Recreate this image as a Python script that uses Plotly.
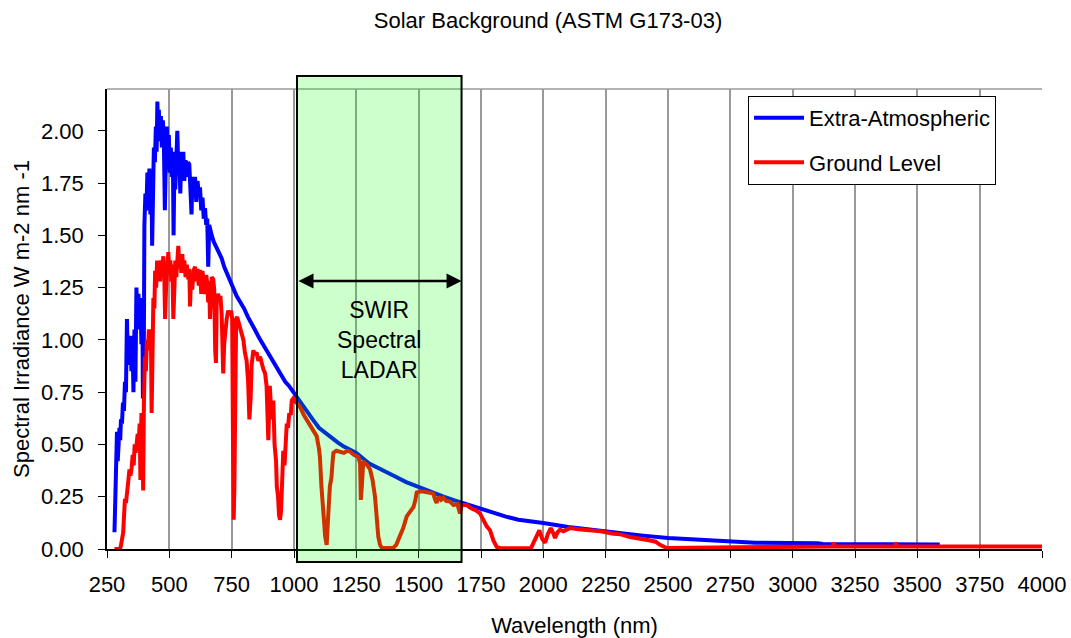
import plotly.graph_objects as go

# ---------------- data ----------------
extra_wl = [280, 283, 286, 290, 293, 297, 300, 303, 306, 310, 314, 318, 322, 326, 330, 333, 336, 340,
            344, 348, 352, 356, 360, 364, 368, 372, 376, 380, 384, 388, 392, 394, 397, 400, 404, 408,
            412, 416, 420, 424, 428, 431, 434, 438, 442, 446, 449, 452, 455, 458, 462, 466, 470, 474,
            478, 482, 486, 490, 494, 498, 502, 506, 510, 514, 517, 520, 524, 528, 532, 536, 540, 544,
            548, 552, 556, 560, 565, 570, 575, 580, 585, 589, 593, 598, 603, 608, 613, 618, 623, 628,
            633, 638, 643, 648, 652, 656, 660, 665, 670, 678, 686, 694, 702, 710, 720, 730, 740, 750,
            760, 770, 780, 790, 800, 815, 830, 845, 860, 875, 890, 905, 920, 935, 950, 965, 980, 1000,
            1025, 1050, 1075, 1100, 1125, 1150, 1175, 1200, 1250, 1300, 1350, 1400, 1450, 1500, 1550,
            1600, 1650, 1700, 1750, 1800, 1850, 1900, 1950, 2000, 2100, 2200, 2300, 2400, 2500, 2600,
            2700, 2800, 2850, 3100, 3120, 3590]
extra_irr = [0.08, 0.25, 0.45, 0.56, 0.42, 0.50, 0.58, 0.52, 0.62, 0.60, 0.70, 0.66, 0.80, 0.75, 1.10,
             0.95, 1.02, 0.88, 1.00, 0.85, 1.02, 0.75, 1.05, 0.80, 1.25, 1.05, 1.22, 1.10, 1.20, 0.98,
             1.15, 0.72, 0.80, 1.55, 1.70, 1.62, 1.80, 1.65, 1.82, 1.60, 1.78, 1.45, 1.75, 1.92, 1.85,
             2.02, 1.90, 2.14, 2.00, 2.10, 1.95, 2.07, 1.92, 2.05, 1.95, 1.62, 1.85, 2.02, 1.85, 1.98,
             1.80, 1.92, 1.78, 1.90, 1.50, 1.80, 1.72, 1.95, 2.00, 1.82, 1.90, 1.70, 1.88, 1.80, 1.90,
             1.76, 1.86, 1.78, 1.85, 1.84, 1.72, 1.60, 1.78, 1.70, 1.78, 1.66, 1.76, 1.70, 1.73, 1.62,
             1.68, 1.58, 1.63, 1.55, 1.58, 1.35, 1.55, 1.52, 1.50, 1.47, 1.45, 1.43, 1.42, 1.39, 1.35,
             1.32, 1.29, 1.26, 1.23, 1.21, 1.19, 1.17, 1.15, 1.11, 1.08, 1.045, 1.01, 0.98, 0.95, 0.92,
             0.89, 0.86, 0.83, 0.80, 0.78, 0.745, 0.70, 0.66, 0.62, 0.58, 0.555, 0.53, 0.51, 0.49,
             0.46, 0.41, 0.378, 0.35, 0.32, 0.295, 0.27, 0.25, 0.23, 0.21, 0.19, 0.17, 0.155, 0.14,
             0.13, 0.124, 0.105, 0.09, 0.076, 0.064, 0.053, 0.047, 0.042, 0.035, 0.03, 0.028, 0.024,
             0.022]

ground_wl = [280, 300, 305, 310, 315, 318, 322, 326, 330, 335, 340, 344, 349, 353, 357, 361, 365, 369,
             373, 377, 381, 384, 388, 392, 395, 398, 402, 406, 410, 414, 418, 422, 426, 429, 432, 436,
             440, 443, 447, 451, 455, 459, 463, 467, 471, 476, 480, 483, 487, 491, 496, 500, 504, 508,
             512, 516, 520, 524, 528, 532, 536, 540, 544, 548, 552, 556, 560, 565, 570, 576, 580, 583,
             587, 592, 597, 603, 608, 613, 618, 623, 628, 633, 638, 643, 648, 652, 656, 660, 663, 667,
             670, 676, 680, 684, 687, 690, 695, 700, 705, 710, 716, 720, 725, 730, 736, 742, 748, 752,
             756, 758, 761, 764, 768, 772, 778, 784, 790, 797, 803, 810, 816, 821, 826, 830, 837, 843,
             850, 857, 864, 870, 877, 884, 890, 897, 903, 910, 917, 922, 928, 931, 936, 940, 944, 948,
             952, 957, 962, 966, 971, 976, 981, 987, 991, 997, 1003, 1011, 1024, 1040, 1055, 1064, 1080,
             1091, 1100, 1104, 1110, 1118, 1125, 1131, 1136, 1140, 1144, 1150, 1155, 1158, 1170, 1185,
             1200, 1215, 1225, 1240, 1258, 1265, 1268, 1272, 1278, 1285, 1295, 1305, 1315, 1325, 1332,
             1338, 1345, 1352, 1370, 1398, 1410, 1425, 1438, 1452, 1465, 1479, 1486, 1492, 1505, 1519,
             1540, 1559, 1565, 1572, 1580, 1590, 1599, 1610, 1626, 1640, 1655, 1666, 1672, 1693, 1710,
             1730, 1746, 1760, 1773, 1786, 1800, 1813, 1830, 1950, 1967, 1976, 1984, 1995, 2007, 2018,
             2030, 2040, 2047, 2057, 2067, 2080, 2107, 2140, 2187, 2230, 2281, 2310, 2348, 2390, 2428,
             2450, 2468, 2495, 2900, 3000, 3160, 3165, 3170, 3410, 3413, 3420, 4000]
ground_irr = [0.0, 0.0, 0.01, 0.04, 0.08, 0.15, 0.24, 0.22, 0.30, 0.32, 0.38, 0.35, 0.39, 0.45, 0.40,
              0.50, 0.46, 0.52, 0.55, 0.50, 0.60, 0.33, 0.65, 0.55, 0.28, 0.70, 0.92, 0.85, 1.00, 0.95,
              1.05, 0.98, 1.05, 0.65, 1.12, 1.20, 1.15, 1.33, 1.25, 1.38, 1.30, 1.36, 1.28, 1.38, 1.32,
              1.40, 1.30, 1.10, 1.25, 1.38, 1.42, 1.32, 1.38, 1.28, 1.36, 1.10, 1.32, 1.38, 1.30, 1.43,
              1.45, 1.35, 1.40, 1.32, 1.41, 1.33, 1.38, 1.30, 1.36, 1.29, 1.34, 1.16, 1.30, 1.24, 1.33,
              1.35, 1.28, 1.34, 1.26, 1.335, 1.22, 1.33, 1.25, 1.22, 1.31, 1.27, 1.18, 1.28, 1.10, 1.28,
              1.30, 1.29, 1.24, 0.95, 0.89, 1.18, 1.22, 1.20, 1.21, 1.12, 0.84, 0.98, 1.05, 1.10, 1.14,
              1.12, 1.14, 1.10, 0.40, 0.14, 0.30, 0.95, 1.10, 1.11, 1.08, 1.06, 1.02, 1.00, 0.94, 0.90,
              0.80, 0.62, 0.72, 0.88, 0.95, 0.93, 0.94, 0.90, 0.92, 0.88, 0.86, 0.84, 0.78, 0.52, 0.78,
              0.62, 0.71, 0.50, 0.42, 0.30, 0.25, 0.16, 0.14, 0.18, 0.28, 0.47, 0.40, 0.55, 0.60, 0.58,
              0.65, 0.64, 0.71, 0.72, 0.71, 0.70, 0.68, 0.64, 0.61, 0.59, 0.56, 0.54, 0.48, 0.44, 0.30,
              0.14, 0.06, 0.02, 0.10, 0.22, 0.30, 0.34, 0.42, 0.46, 0.47, 0.466, 0.46, 0.47, 0.465, 0.45,
              0.44, 0.41, 0.235, 0.30, 0.42, 0.41, 0.40, 0.38, 0.33, 0.25, 0.15, 0.06, 0.02, 0.005,
              0.005, 0.005, 0.02, 0.06, 0.10, 0.156, 0.18, 0.20, 0.23, 0.27, 0.275, 0.275, 0.27, 0.265,
              0.24, 0.22, 0.25, 0.235, 0.245, 0.23, 0.227, 0.21, 0.215, 0.17, 0.21, 0.21, 0.195, 0.185,
              0.17, 0.14, 0.108, 0.09, 0.04, 0.01, 0.003, 0.003, 0.045, 0.07, 0.089, 0.05, 0.03, 0.07,
              0.10, 0.075, 0.053, 0.08, 0.092, 0.085, 0.10, 0.095, 0.092, 0.085, 0.073, 0.07, 0.057,
              0.05, 0.041, 0.035, 0.02, 0.005, 0.008, 0.012, 0.012, 0.03, 0.012, 0.012, 0.03, 0.012,
              0.012]

x_ticks = [250, 500, 750, 1000, 1250, 1500, 1750, 2000, 2250, 2500, 2750, 3000, 3250, 3500, 3750, 4000]
y_ticks = [0.00, 0.25, 0.50, 0.75, 1.00, 1.25, 1.50, 1.75, 2.00]
band_start, band_end = 1012, 1672
arrow_level = 1.282
band_label = "SWIR<br>Spectral<br>LADAR"

FONT = "Liberation Sans, Arial, sans-serif"
FS = 22

fig = go.Figure()
fig.add_trace(go.Scatter(x=extra_wl, y=extra_irr, mode="lines", name="Extra-Atmospheric",
                         line=dict(color="#0000ff", width=4), legendgroup="a"))
fig.add_trace(go.Scatter(x=ground_wl, y=ground_irr, mode="lines", name="Ground Level",
                         line=dict(color="#ff0000", width=4), legendgroup="b"))

# green band overlay (translucent, above the curves)
fig.add_shape(type="rect", xref="x", yref="paper", x0=band_start, x1=band_end, y0=-0.028, y1=1.028,
              fillcolor="rgba(0,255,0,0.2)", line=dict(color="black", width=2), layer="above")
# top border of the plot area
fig.add_shape(type="line", xref="paper", yref="paper", x0=0, x1=1, y0=1, y1=1,
              line=dict(color="#999999", width=1.5), layer="below")

fig.add_annotation(x=band_end, y=arrow_level, ax=band_start, ay=arrow_level, xref="x", yref="y",
                   axref="x", ayref="y", text="", showarrow=True, arrowhead=2, arrowsize=1.2,
                   arrowwidth=2.5, arrowcolor="black", arrowside="end+start")
fig.add_annotation(x=(band_start + band_end) / 2, y=1.0, xref="x", yref="y", text=band_label,
                   showarrow=False, font=dict(family=FONT, size=23, color="black"))

fig.update_layout(
    width=1071, height=638,
    margin=dict(l=107, r=29, t=89, b=89),
    paper_bgcolor="white", plot_bgcolor="white",
    font=dict(family=FONT, size=FS, color="black"),
    title=dict(text="Solar Background (ASTM G173-03)", x=548 / 1071, xanchor="center",
               y=1 - 20 / 638, yanchor="middle", font=dict(family=FONT, size=FS, color="black")),
    legend=dict(x=0.6856, y=0.985, xanchor="left", yanchor="top", bgcolor="white",
                bordercolor="black", borderwidth=1, font=dict(family=FONT, size=FS),
                tracegroupgap=13, traceorder="grouped", itemwidth=50),
    xaxis=dict(range=[250, 4000], tickvals=x_ticks, ticktext=[str(v) for v in x_ticks],
               showgrid=True, gridcolor="#999999", gridwidth=1.5, zeroline=False, automargin=False,
               showline=True, linecolor="black", linewidth=1.5, ticks="outside", ticklen=7,
               tickcolor="black", ticklabelstandoff=8,
               title=dict(text="Wavelength (nm)", standoff=22, font=dict(family=FONT, size=FS))),
    yaxis=dict(range=[0, 2.2], tickvals=y_ticks, ticktext=[f"{v:.2f}" for v in y_ticks],
               showgrid=False, zeroline=False, showline=True, linecolor="black", linewidth=1.5,
               automargin=False, ticks="outside", ticklen=7, tickcolor="black", ticklabelstandoff=10,
               title=dict(text="Spectral Irradiance W m-2 nm -1", standoff=5,
                          font=dict(family=FONT, size=FS))),
)

fig.write_html("out.html")
